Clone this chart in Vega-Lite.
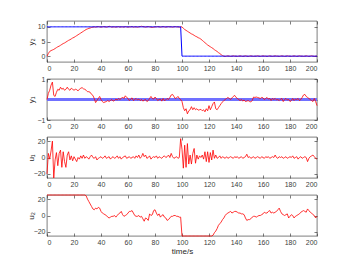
{
"$schema":"https://vega.github.io/schema/vega-lite/v6.json",
"padding":{"left":26,"top":20,"right":5,"bottom":5},
"bounds":"flush",
"spacing":17,
"data":{"values":[
{"t":0,"y2":0,"r2":10,"y1":0,"u1":-20,"u2":25},
{"t":1,"y2":0.9,"r2":10,"y1":0.3,"u1":5,"u2":25},
{"t":2,"y2":1.6,"r2":10,"y1":0.45,"u1":-2,"u2":25},
{"t":3,"y2":1.9,"r2":10,"y1":0.7,"u1":8,"u2":25},
{"t":4,"y2":2.1,"r2":10,"y1":0.85,"u1":20,"u2":25},
{"t":5,"y2":2.3,"r2":10,"y1":0.2,"u1":-25,"u2":25},
{"t":6,"y2":2.6,"r2":10,"y1":0.15,"u1":-3,"u2":25},
{"t":7,"y2":2.9,"r2":10,"y1":0.35,"u1":6,"u2":25},
{"t":8,"y2":3.2,"r2":10,"y1":0.5,"u1":-10,"u2":25},
{"t":9,"y2":3.4,"r2":10,"y1":0.45,"u1":5,"u2":25},
{"t":10,"y2":3.7,"r2":10,"y1":0.6,"u1":9,"u2":25},
{"t":11,"y2":4.0,"r2":10,"y1":0.5,"u1":-12,"u2":25},
{"t":12,"y2":4.3,"r2":10,"y1":0.55,"u1":7,"u2":25},
{"t":13,"y2":4.5,"r2":10,"y1":0.45,"u1":-5,"u2":25},
{"t":14,"y2":4.8,"r2":10,"y1":0.5,"u1":-12,"u2":25},
{"t":15,"y2":5.1,"r2":10,"y1":0.6,"u1":3,"u2":25},
{"t":16,"y2":5.4,"r2":10,"y1":0.5,"u1":7,"u2":25},
{"t":17,"y2":5.6,"r2":10,"y1":0.45,"u1":-3,"u2":25},
{"t":18,"y2":5.9,"r2":10,"y1":0.55,"u1":2,"u2":25},
{"t":19,"y2":6.2,"r2":10,"y1":0.5,"u1":-4,"u2":25},
{"t":20,"y2":6.4,"r2":10,"y1":0.45,"u1":1,"u2":25},
{"t":21,"y2":6.7,"r2":10,"y1":0.5,"u1":-2,"u2":25},
{"t":22,"y2":7.0,"r2":10,"y1":0.48,"u1":-5,"u2":25},
{"t":23,"y2":7.3,"r2":10,"y1":0.42,"u1":0,"u2":25},
{"t":24,"y2":7.6,"r2":10,"y1":0.5,"u1":-2,"u2":25},
{"t":25,"y2":7.9,"r2":10,"y1":0.55,"u1":2,"u2":25},
{"t":26,"y2":8.2,"r2":10,"y1":0.58,"u1":-1,"u2":25},
{"t":27,"y2":8.5,"r2":10,"y1":0.52,"u1":3,"u2":25},
{"t":28,"y2":8.8,"r2":10,"y1":0.5,"u1":-1,"u2":25},
{"t":29,"y2":9.1,"r2":10,"y1":0.45,"u1":1,"u2":24},
{"t":30,"y2":9.3,"r2":10,"y1":0.38,"u1":0,"u2":20},
{"t":31,"y2":9.5,"r2":10,"y1":0.38,"u1":-2,"u2":17},
{"t":32,"y2":9.6,"r2":10,"y1":0.35,"u1":1,"u2":14},
{"t":33,"y2":9.8,"r2":10,"y1":0.25,"u1":3,"u2":11},
{"t":34,"y2":9.9,"r2":10,"y1":0.2,"u1":0,"u2":8},
{"t":35,"y2":10.0,"r2":10,"y1":0.05,"u1":-1,"u2":7},
{"t":36,"y2":9.9,"r2":10,"y1":-0.15,"u1":1,"u2":9},
{"t":37,"y2":10.0,"r2":10,"y1":-0.05,"u1":-3,"u2":8},
{"t":38,"y2":10.1,"r2":10,"y1":0.05,"u1":-1,"u2":10},
{"t":39,"y2":10.0,"r2":10,"y1":0.15,"u1":0,"u2":9},
{"t":40,"y2":9.9,"r2":10,"y1":0.0,"u1":1,"u2":5},
{"t":41,"y2":10.0,"r2":10,"y1":-0.1,"u1":-1,"u2":3},
{"t":42,"y2":10.1,"r2":10,"y1":-0.15,"u1":0,"u2":2},
{"t":43,"y2":10.0,"r2":10,"y1":-0.12,"u1":2,"u2":1},
{"t":44,"y2":9.9,"r2":10,"y1":-0.1,"u1":-1,"u2":0},
{"t":45,"y2":10.0,"r2":10,"y1":-0.05,"u1":0,"u2":-2},
{"t":46,"y2":10.2,"r2":10,"y1":-0.1,"u1":1,"u2":-3},
{"t":47,"y2":10.1,"r2":10,"y1":-0.05,"u1":-2,"u2":-2},
{"t":48,"y2":9.9,"r2":10,"y1":0.0,"u1":0,"u2":-1},
{"t":49,"y2":10.0,"r2":10,"y1":-0.08,"u1":1,"u2":-1},
{"t":50,"y2":10.0,"r2":10,"y1":-0.05,"u1":-1,"u2":0},
{"t":51,"y2":9.9,"r2":10,"y1":0.02,"u1":0,"u2":-2},
{"t":52,"y2":10.0,"r2":10,"y1":-0.03,"u1":2,"u2":0},
{"t":53,"y2":10.1,"r2":10,"y1":0.05,"u1":-1,"u2":2},
{"t":54,"y2":9.9,"r2":10,"y1":0.0,"u1":1,"u2":3},
{"t":55,"y2":10.0,"r2":10,"y1":0.05,"u1":-2,"u2":5},
{"t":56,"y2":10.0,"r2":10,"y1":0.12,"u1":0,"u2":1},
{"t":57,"y2":9.9,"r2":10,"y1":0.05,"u1":1,"u2":-1},
{"t":58,"y2":10.1,"r2":10,"y1":0.18,"u1":2,"u2":0},
{"t":59,"y2":10.0,"r2":10,"y1":0.1,"u1":-1,"u2":1},
{"t":60,"y2":9.9,"r2":10,"y1":0.05,"u1":0,"u2":3},
{"t":61,"y2":10.0,"r2":10,"y1":-0.05,"u1":1,"u2":5},
{"t":62,"y2":10.0,"r2":10,"y1":0.02,"u1":-1,"u2":5},
{"t":63,"y2":10.1,"r2":10,"y1":0.08,"u1":0,"u2":6},
{"t":64,"y2":9.9,"r2":10,"y1":-0.05,"u1":1,"u2":3},
{"t":65,"y2":10.0,"r2":10,"y1":0.0,"u1":-1,"u2":0},
{"t":66,"y2":10.0,"r2":10,"y1":0.05,"u1":2,"u2":-1},
{"t":67,"y2":9.9,"r2":10,"y1":-0.02,"u1":0,"u2":-1},
{"t":68,"y2":10.0,"r2":10,"y1":0.02,"u1":3,"u2":0},
{"t":69,"y2":10.1,"r2":10,"y1":-0.05,"u1":-1,"u2":-2},
{"t":70,"y2":10.2,"r2":10,"y1":0.0,"u1":1,"u2":-1},
{"t":71,"y2":10.1,"r2":10,"y1":-0.08,"u1":5,"u2":-4},
{"t":72,"y2":10.0,"r2":10,"y1":-0.03,"u1":1,"u2":-7},
{"t":73,"y2":9.9,"r2":10,"y1":0.0,"u1":3,"u2":-3},
{"t":74,"y2":10.0,"r2":10,"y1":-0.1,"u1":-1,"u2":-4},
{"t":75,"y2":10.1,"r2":10,"y1":-0.05,"u1":0,"u2":-6},
{"t":76,"y2":10.0,"r2":10,"y1":0.05,"u1":2,"u2":2},
{"t":77,"y2":9.9,"r2":10,"y1":0.15,"u1":-2,"u2":0},
{"t":78,"y2":9.8,"r2":10,"y1":0.05,"u1":0,"u2":1},
{"t":79,"y2":9.9,"r2":10,"y1":0.02,"u1":1,"u2":6},
{"t":80,"y2":10.0,"r2":10,"y1":0.12,"u1":0,"u2":7},
{"t":81,"y2":10.0,"r2":10,"y1":0.05,"u1":2,"u2":3},
{"t":82,"y2":10.1,"r2":10,"y1":-0.05,"u1":-1,"u2":0},
{"t":83,"y2":10.0,"r2":10,"y1":0.0,"u1":1,"u2":2},
{"t":84,"y2":9.9,"r2":10,"y1":0.02,"u1":0,"u2":-2},
{"t":85,"y2":10.0,"r2":10,"y1":-0.08,"u1":-1,"u2":0},
{"t":86,"y2":10.1,"r2":10,"y1":0.05,"u1":1,"u2":1},
{"t":87,"y2":10.0,"r2":10,"y1":-0.05,"u1":2,"u2":-2},
{"t":88,"y2":9.9,"r2":10,"y1":-0.02,"u1":0,"u2":-3},
{"t":89,"y2":10.0,"r2":10,"y1":0.05,"u1":1,"u2":-6},
{"t":90,"y2":10.1,"r2":10,"y1":0.0,"u1":3,"u2":-5},
{"t":91,"y2":10.0,"r2":10,"y1":0.1,"u1":0,"u2":-3},
{"t":92,"y2":10.0,"r2":10,"y1":0.22,"u1":5,"u2":-1},
{"t":93,"y2":9.9,"r2":10,"y1":0.25,"u1":1,"u2":-1},
{"t":94,"y2":10.0,"r2":10,"y1":0.15,"u1":-1,"u2":0},
{"t":95,"y2":10.1,"r2":10,"y1":0.05,"u1":0,"u2":0},
{"t":96,"y2":10.0,"r2":10,"y1":0.08,"u1":1,"u2":-1},
{"t":97,"y2":10.0,"r2":10,"y1":0.15,"u1":-1,"u2":-1},
{"t":98,"y2":9.9,"r2":10,"y1":0.05,"u1":0,"u2":-2},
{"t":99,"y2":10.0,"r2":10,"y1":0.0,"u1":23,"u2":-2},
{"t":100,"y2":10.0,"r2":0,"y1":-0.1,"u1":10,"u2":-25},
{"t":101,"y2":9.5,"r2":0,"y1":-0.4,"u1":-13,"u2":-25},
{"t":102,"y2":9.1,"r2":0,"y1":-0.55,"u1":15,"u2":-25},
{"t":103,"y2":8.8,"r2":0,"y1":-0.45,"u1":-12,"u2":-25},
{"t":104,"y2":8.5,"r2":0,"y1":-0.7,"u1":17,"u2":-25},
{"t":105,"y2":8.2,"r2":0,"y1":-0.55,"u1":-8,"u2":-25},
{"t":106,"y2":7.9,"r2":0,"y1":-0.5,"u1":3,"u2":-25},
{"t":107,"y2":7.6,"r2":0,"y1":-0.35,"u1":-8,"u2":-25},
{"t":108,"y2":7.4,"r2":0,"y1":-0.5,"u1":5,"u2":-25},
{"t":109,"y2":7.1,"r2":0,"y1":-0.4,"u1":11,"u2":-25},
{"t":110,"y2":6.8,"r2":0,"y1":-0.5,"u1":-7,"u2":-25},
{"t":111,"y2":6.6,"r2":0,"y1":-0.45,"u1":3,"u2":-25},
{"t":112,"y2":6.3,"r2":0,"y1":-0.52,"u1":-2,"u2":-25},
{"t":113,"y2":6.1,"r2":0,"y1":-0.5,"u1":2,"u2":-25},
{"t":114,"y2":5.8,"r2":0,"y1":-0.48,"u1":0,"u2":-25},
{"t":115,"y2":5.4,"r2":0,"y1":-0.55,"u1":3,"u2":-25},
{"t":116,"y2":5.0,"r2":0,"y1":-0.5,"u1":-2,"u2":-25},
{"t":117,"y2":4.6,"r2":0,"y1":-0.6,"u1":7,"u2":-25},
{"t":118,"y2":4.2,"r2":0,"y1":-0.45,"u1":-5,"u2":-25},
{"t":119,"y2":3.8,"r2":0,"y1":-0.55,"u1":7,"u2":-25},
{"t":120,"y2":3.5,"r2":0,"y1":-0.3,"u1":-6,"u2":-25},
{"t":121,"y2":3.2,"r2":0,"y1":-0.5,"u1":6,"u2":-25},
{"t":122,"y2":2.9,"r2":0,"y1":-0.35,"u1":-3,"u2":-25},
{"t":123,"y2":2.6,"r2":0,"y1":-0.2,"u1":9,"u2":-24},
{"t":124,"y2":2.2,"r2":0,"y1":-0.12,"u1":-1,"u2":-21},
{"t":125,"y2":1.9,"r2":0,"y1":-0.45,"u1":3,"u2":-19},
{"t":126,"y2":1.6,"r2":0,"y1":-0.5,"u1":-1,"u2":-16},
{"t":127,"y2":1.2,"r2":0,"y1":-0.4,"u1":0,"u2":-12},
{"t":128,"y2":0.9,"r2":0,"y1":-0.3,"u1":2,"u2":-10},
{"t":129,"y2":0.5,"r2":0,"y1":-0.2,"u1":-1,"u2":-8},
{"t":130,"y2":0.2,"r2":0,"y1":-0.12,"u1":1,"u2":-5},
{"t":131,"y2":0.0,"r2":0,"y1":-0.05,"u1":0,"u2":-3},
{"t":132,"y2":-0.1,"r2":0,"y1":0.0,"u1":-1,"u2":0},
{"t":133,"y2":0.0,"r2":0,"y1":0.05,"u1":1,"u2":2},
{"t":134,"y2":0.1,"r2":0,"y1":0.1,"u1":-1,"u2":3},
{"t":135,"y2":0.0,"r2":0,"y1":0.05,"u1":0,"u2":4},
{"t":136,"y2":-0.1,"r2":0,"y1":0.0,"u1":1,"u2":5},
{"t":137,"y2":0.0,"r2":0,"y1":0.08,"u1":0,"u2":3},
{"t":138,"y2":0.1,"r2":0,"y1":0.15,"u1":-1,"u2":4},
{"t":139,"y2":0.0,"r2":0,"y1":0.2,"u1":1,"u2":5},
{"t":140,"y2":0.0,"r2":0,"y1":0.1,"u1":0,"u2":5},
{"t":141,"y2":-0.1,"r2":0,"y1":0.05,"u1":1,"u2":4},
{"t":142,"y2":0.0,"r2":0,"y1":0.0,"u1":-1,"u2":3},
{"t":143,"y2":0.1,"r2":0,"y1":-0.05,"u1":0,"u2":3},
{"t":144,"y2":0.0,"r2":0,"y1":0.0,"u1":1,"u2":2},
{"t":145,"y2":-0.1,"r2":0,"y1":-0.08,"u1":-1,"u2":2},
{"t":146,"y2":0.0,"r2":0,"y1":-0.02,"u1":0,"u2":1},
{"t":147,"y2":0.1,"r2":0,"y1":-0.1,"u1":1,"u2":-3},
{"t":148,"y2":0.0,"r2":0,"y1":-0.08,"u1":4,"u2":-6},
{"t":149,"y2":-0.1,"r2":0,"y1":-0.05,"u1":0,"u2":-5},
{"t":150,"y2":0.0,"r2":0,"y1":-0.1,"u1":1,"u2":-5},
{"t":151,"y2":0.1,"r2":0,"y1":-0.12,"u1":-1,"u2":-4},
{"t":152,"y2":0.0,"r2":0,"y1":-0.05,"u1":0,"u2":-2},
{"t":153,"y2":-0.1,"r2":0,"y1":0.12,"u1":1,"u2":-1},
{"t":154,"y2":0.0,"r2":0,"y1":0.1,"u1":-1,"u2":-1},
{"t":155,"y2":0.0,"r2":0,"y1":0.12,"u1":0,"u2":-2},
{"t":156,"y2":0.1,"r2":0,"y1":0.1,"u1":1,"u2":-1},
{"t":157,"y2":0.0,"r2":0,"y1":0.08,"u1":0,"u2":0},
{"t":158,"y2":-0.1,"r2":0,"y1":0.05,"u1":-1,"u2":0},
{"t":159,"y2":0.0,"r2":0,"y1":0.1,"u1":1,"u2":1},
{"t":160,"y2":0.1,"r2":0,"y1":0.08,"u1":0,"u2":2},
{"t":161,"y2":0.0,"r2":0,"y1":0.0,"u1":-1,"u2":4},
{"t":162,"y2":0.0,"r2":0,"y1":0.05,"u1":1,"u2":3},
{"t":163,"y2":-0.1,"r2":0,"y1":0.1,"u1":0,"u2":3},
{"t":164,"y2":0.0,"r2":0,"y1":0.02,"u1":1,"u2":5},
{"t":165,"y2":0.1,"r2":0,"y1":0.05,"u1":-1,"u2":6},
{"t":166,"y2":0.0,"r2":0,"y1":-0.05,"u1":0,"u2":3},
{"t":167,"y2":-0.1,"r2":0,"y1":0.05,"u1":1,"u2":4},
{"t":168,"y2":0.0,"r2":0,"y1":0.0,"u1":0,"u2":3},
{"t":169,"y2":0.1,"r2":0,"y1":0.05,"u1":3,"u2":4},
{"t":170,"y2":0.0,"r2":0,"y1":-0.02,"u1":0,"u2":5},
{"t":171,"y2":0.0,"r2":0,"y1":0.0,"u1":-1,"u2":7},
{"t":172,"y2":-0.1,"r2":0,"y1":-0.05,"u1":1,"u2":9},
{"t":173,"y2":0.0,"r2":0,"y1":0.02,"u1":0,"u2":5},
{"t":174,"y2":0.1,"r2":0,"y1":0.05,"u1":1,"u2":2},
{"t":175,"y2":0.0,"r2":0,"y1":-0.1,"u1":-1,"u2":1},
{"t":176,"y2":-0.1,"r2":0,"y1":0.0,"u1":0,"u2":0},
{"t":177,"y2":0.0,"r2":0,"y1":0.05,"u1":1,"u2":1},
{"t":178,"y2":0.1,"r2":0,"y1":-0.02,"u1":-1,"u2":2},
{"t":179,"y2":0.0,"r2":0,"y1":0.0,"u1":0,"u2":-3},
{"t":180,"y2":0.0,"r2":0,"y1":-0.1,"u1":1,"u2":-1},
{"t":181,"y2":-0.1,"r2":0,"y1":-0.05,"u1":0,"u2":1},
{"t":182,"y2":0.0,"r2":0,"y1":0.05,"u1":2,"u2":0},
{"t":183,"y2":0.1,"r2":0,"y1":-0.05,"u1":-1,"u2":-3},
{"t":184,"y2":0.0,"r2":0,"y1":0.02,"u1":0,"u2":-1},
{"t":185,"y2":-0.1,"r2":0,"y1":0.0,"u1":1,"u2":0},
{"t":186,"y2":0.0,"r2":0,"y1":0.05,"u1":-2,"u2":1},
{"t":187,"y2":0.1,"r2":0,"y1":-0.05,"u1":0,"u2":2},
{"t":188,"y2":0.0,"r2":0,"y1":0.0,"u1":1,"u2":4},
{"t":189,"y2":0.0,"r2":0,"y1":0.1,"u1":-1,"u2":5},
{"t":190,"y2":-0.1,"r2":0,"y1":0.22,"u1":0,"u2":6},
{"t":191,"y2":0.0,"r2":0,"y1":0.25,"u1":1,"u2":5},
{"t":192,"y2":0.1,"r2":0,"y1":0.15,"u1":0,"u2":4},
{"t":193,"y2":0.0,"r2":0,"y1":0.1,"u1":-5,"u2":8},
{"t":194,"y2":-0.1,"r2":0,"y1":0.05,"u1":-1,"u2":6},
{"t":195,"y2":0.0,"r2":0,"y1":0.0,"u1":1,"u2":4},
{"t":196,"y2":0.1,"r2":0,"y1":-0.05,"u1":2,"u2":3},
{"t":197,"y2":0.0,"r2":0,"y1":-0.1,"u1":3,"u2":1},
{"t":198,"y2":-0.1,"r2":0,"y1":0.05,"u1":1,"u2":0},
{"t":199,"y2":0.0,"r2":0,"y1":-0.1,"u1":-1,"u2":-3},
{"t":200,"y2":0.0,"r2":0,"y1":-0.3,"u1":-2,"u2":-1}
]},
"vconcat":[
{"width":270,"height":41,
 "layer":[
  {"mark":{"type":"line","color":"#ff0000","strokeWidth":0.8},
   "encoding":{
    "x":{"field":"t","type":"quantitative","scale":{"domain":[0,200]},"axis":{"orient":"bottom","values":[0,20,40,60,80,100,120,140,160,180,200],"title":null}},
    "y":{"field":"y2","type":"quantitative","scale":{"domain":[-2,12]},"axis":{"orient":"left","values":[0,5,10],"format":"d","title":"y₂"}}}},
  {"mark":{"type":"line","color":"#0000ff","strokeWidth":1},
   "encoding":{
    "x":{"field":"t","type":"quantitative","scale":{"domain":[0,200]},"axis":{"orient":"top","values":[0,20,40,60,80,100,120,140,160,180,200],"labels":false,"title":null}},
    "y":{"field":"r2","type":"quantitative","scale":{"domain":[-2,12]},"axis":{"orient":"right","values":[0,5,10],"labels":false,"title":null}}}}
 ],
 "resolve":{"axis":{"x":"independent","y":"independent"}}},
{"width":270,"height":41,
 "layer":[
  {"mark":{"type":"rule","stroke":"#7070ff","strokeWidth":1.5},
   "encoding":{
    "y":{"datum":0,"type":"quantitative","scale":{"domain":[-1,1]},"axis":{"orient":"right","values":[-1,0,1],"labels":false,"title":null}}}},
  {"mark":{"type":"line","color":"#ff0000","strokeWidth":0.8},
   "encoding":{
    "x":{"field":"t","type":"quantitative","scale":{"domain":[0,200]},"axis":{"orient":"bottom","values":[0,20,40,60,80,100,120,140,160,180,200],"title":null}},
    "y":{"field":"y1","type":"quantitative","scale":{"domain":[-1,1]},"axis":{"orient":"left","values":[-1,0,1],"format":"d","title":"y₁"}}}},
  {"mark":{"type":"line","color":"#ff0000","strokeOpacity":0},
   "encoding":{
    "x":{"field":"t","type":"quantitative","scale":{"domain":[0,200]},"axis":{"orient":"top","values":[0,20,40,60,80,100,120,140,160,180,200],"labels":false,"title":null}},
    "y":{"field":"y1","type":"quantitative","scale":{"domain":[-1,1]},"axis":null}}}
 ],
 "resolve":{"axis":{"x":"independent","y":"independent"}}},
{"width":270,"height":41,
 "layer":[
  {"mark":{"type":"line","color":"#ff0000","strokeWidth":0.8},
   "encoding":{
    "x":{"field":"t","type":"quantitative","scale":{"domain":[0,200]},"axis":{"orient":"bottom","values":[0,20,40,60,80,100,120,140,160,180,200],"title":null}},
    "y":{"field":"u1","type":"quantitative","scale":{"domain":[-25,25]},"axis":{"orient":"left","values":[-20,0,20],"format":"d","title":"u₁"}}}},
  {"mark":{"type":"line","color":"#ff0000","strokeOpacity":0},
   "encoding":{
    "x":{"field":"t","type":"quantitative","scale":{"domain":[0,200]},"axis":{"orient":"top","values":[0,20,40,60,80,100,120,140,160,180,200],"labels":false,"title":null}},
    "y":{"field":"u1","type":"quantitative","scale":{"domain":[-25,25]},"axis":{"orient":"right","values":[-20,0,20],"labels":false,"title":null}}}}
 ],
 "resolve":{"axis":{"x":"independent","y":"independent"}}},
{"width":270,"height":41,
 "layer":[
  {"mark":{"type":"line","color":"#ff0000","strokeWidth":0.8},
   "encoding":{
    "x":{"field":"t","type":"quantitative","scale":{"domain":[0,200]},"axis":{"orient":"bottom","values":[0,20,40,60,80,100,120,140,160,180,200],"title":"time/s","titlePadding":2}},
    "y":{"field":"u2","type":"quantitative","scale":{"domain":[-25,25]},"axis":{"orient":"left","values":[-20,0,20],"format":"d","title":"u₂"}}}},
  {"mark":{"type":"line","color":"#ff0000","strokeOpacity":0},
   "encoding":{
    "x":{"field":"t","type":"quantitative","scale":{"domain":[0,200]},"axis":{"orient":"top","values":[0,20,40,60,80,100,120,140,160,180,200],"labels":false,"title":null}},
    "y":{"field":"u2","type":"quantitative","scale":{"domain":[-25,25]},"axis":{"orient":"right","values":[-20,0,20],"labels":false,"title":null}}}}
 ],
 "resolve":{"axis":{"x":"independent","y":"independent"}}}
],
"config":{
 "font":"Liberation Sans",
 "view":{"stroke":"#262626","strokeWidth":0.6},
 "axis":{"domain":false,"grid":false,"tickSize":-3,"tickColor":"#262626","tickWidth":0.6,"labelFont":"Liberation Sans","labelFontSize":7,"labelColor":"#404040","labelPadding":5,"titleFont":"Liberation Sans","titleFontSize":8,"titleFontWeight":"normal","titleColor":"#262626"},
 "axisLeft":{"titleX":-12,"titleY":20.5}
}
}
